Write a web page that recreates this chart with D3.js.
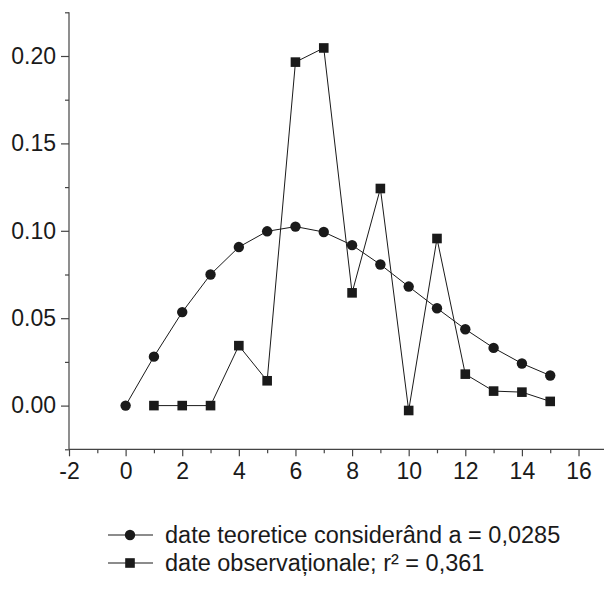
<!DOCTYPE html>
<html><head><meta charset="utf-8">
<script src="https://cdn.jsdelivr.net/npm/d3@7"></script>
<style>body{margin:0;background:#fff}svg{display:block}</style>
</head><body>
<script>
const xTheory = [0,1,2,3,4,5,6,7,8,9,10,11,12,13,14,15];
const yTheory = [0,0.0280,0.0535,0.0750,0.0907,0.0997,0.1024,0.0993,0.0918,0.0807,0.0681,0.0557,0.0437,0.0330,0.0241,0.0172];
const xObs = [1,2,3,4,5,6,7,8,9,10,11,12,13,14,15];
const yObs = [0,0,0,0.0343,0.0142,0.1965,0.2046,0.0645,0.1242,-0.0028,0.0956,0.0180,0.0083,0.0077,0.0024];
const xTicks = [-2,0,2,4,6,8,10,12,14,16];
const yTicks = [0.00,0.05,0.10,0.15,0.20];
const legendLabels = ["date teoretice considerând a = 0,0285","date observaționale; r² = 0,361"];

const W=605,H=589;
const svg=d3.select("body").append("svg").attr("width",W).attr("height",H);
const x=d3.scaleLinear().domain([-2,16.9]).range([69,604]);
const y=d3.scaleLinear().domain([-0.025,0.225]).range([449.3,12.3]);
const font="'Liberation Sans', Arial, Helvetica, sans-serif";
const ink="#1a1a1a";
const fs=23;

// y axis
const ya=svg.append("g").attr("transform","translate(69,0)")
  .call(d3.axisLeft(y).tickValues(yTicks).tickFormat(d3.format(".2f")).tickSize(8).tickPadding(5));
svg.append("g").attr("transform","translate(69,0)")
  .call(d3.axisLeft(y).tickValues([-0.025,0.025,0.075,0.125,0.175,0.225]).tickFormat("").tickSize(4))
  .select(".domain").remove();
// x axis
const xa=svg.append("g").attr("transform","translate(0,449.3)")
  .call(d3.axisBottom(x).tickValues(xTicks).tickFormat(d=>d<0?"-"+Math.abs(d):d).tickSize(7).tickPadding(6));
svg.append("g").attr("transform","translate(0,449.3)")
  .call(d3.axisBottom(x).tickValues([-1,1,3,5,7,9,11,13,15]).tickFormat("").tickSize(4))
  .select(".domain").remove();
ya.select(".domain").attr("d",`M0,${y.range()[1]}V${y.range()[0]}`);
xa.select(".domain").attr("d",`M${x.range()[0]},0H${x.range()[1]}`);
svg.selectAll(".tick line, .domain").attr("stroke","#444").attr("stroke-width",1.2);
svg.selectAll(".tick text").attr("font-family",font).attr("font-size",fs).attr("fill",ink);

const line=d3.line().x(d=>x(d[0])).y(d=>y(d[1]));
const tData=xTheory.map((v,i)=>[v,yTheory[i]]);
const oData=xObs.map((v,i)=>[v,yObs[i]]);
svg.append("path").datum(tData).attr("d",line).attr("fill","none").attr("stroke",ink).attr("stroke-width",1);
svg.append("path").datum(oData).attr("d",line).attr("fill","none").attr("stroke",ink).attr("stroke-width",1);
svg.selectAll("circle.t").data(tData).join("circle").attr("cx",d=>x(d[0])).attr("cy",d=>y(d[1])).attr("r",5.2).attr("fill",ink);
svg.selectAll("rect.o").data(oData).join("rect").attr("x",d=>x(d[0])-4.8).attr("y",d=>y(d[1])-4.8).attr("width",9.6).attr("height",9.6).attr("fill",ink);

// legend
const lg=svg.append("g");
[535,563].forEach((ly,i)=>{
  lg.append("line").attr("x1",108).attr("x2",153).attr("y1",ly).attr("y2",ly).attr("stroke",ink).attr("stroke-width",1.1);
  if(i===0) lg.append("circle").attr("cx",130).attr("cy",ly).attr("r",5.2).attr("fill",ink);
  else lg.append("rect").attr("x",125.2).attr("y",ly-4.8).attr("width",9.6).attr("height",9.6).attr("fill",ink);
  lg.append("text").attr("x",165).attr("y",ly+8).attr("font-family",font).attr("font-size",23.5).attr("fill",ink).text(legendLabels[i]);
});
</script>
</body></html>
